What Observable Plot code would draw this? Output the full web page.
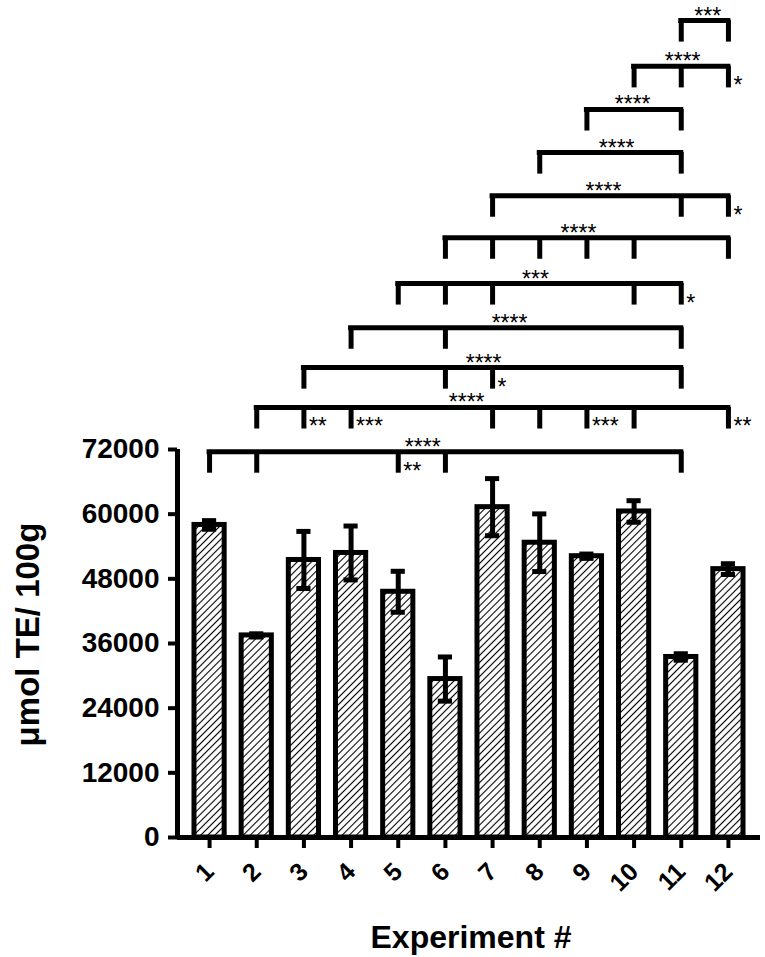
<!DOCTYPE html>
<html><head><meta charset="utf-8">
<script src="https://cdn.jsdelivr.net/npm/d3@7"></script>
<script src="https://cdn.jsdelivr.net/npm/@observablehq/plot@0.6"></script>
<style>html,body{margin:0;padding:0;background:#fff}svg{display:block}</style>
</head><body><div id="chart"></div>
<script>
// ---- data ----
const experiments = [1,2,3,4,5,6,7,8,9,10,11,12];
const means  = [58000, 37500, 51500, 52800, 45600, 29400, 61300, 54700, 52200, 60500, 33500, 49800];
const errors = [800, 300, 5300, 5000, 3800, 4100, 5300, 5350, 400, 2000, 600, 1000];
const yTicks = [0, 12000, 24000, 36000, 48000, 60000, 72000];
const xDomain = [0.32, 12.68];
const yDomain = [0, 72000];

// significance brackets (top to bottom)
const bracketFrom  = [11, 10, 9, 8, 7, 6, 5, 4, 3, 2, 1];
const bracketTo    = [12, 12, 11, 11, 12, 12, 11, 11, 11, 12, 11];
const bracketLevel = [151600, 143100, 135100, 127100, 119100, 111300, 102800, 94600, 87200, 79800, 71600];
const bracketLegs  = [[11,12],[10,11,12],[9,11],[8,11],[7,11,12],[6,7,8,9,10,12],[5,6,7,10,11],[4,6,11],[3,6,7,11],[2,3,4,7,8,9,10,12],[1,2,5,6,11]];
const bracketLabel = ["***","****","****","****","****","****","***","****","****","****","****"];
const bracketLabelAt = [11.56, 11.03, 9.97, 9.63, 9.35, 8.82, 7.91, 7.36, 6.81, 6.45, 5.52];
const legDrop = 4000;
// extra labels beside a leg: bracket index, leg position, label
const sideBracket = [1, 4, 6, 8, 9, 9, 9, 9, 10];
const sideAt      = [12, 12, 11, 7, 3, 4, 9, 12, 5];
const sideLabel   = ["*", "*", "*", "*", "**", "***", "***", "**", "**"];

const xTitle = "Experiment #";
const yTitle = "μmol TE/ 100g";

// ---- tables ----
const bars = experiments.map((e, i) => ({e, m: means[i], err: errors[i]}));
const brackets = bracketFrom.map((f, i) => ({from: f, to: bracketTo[i], level: bracketLevel[i], label: bracketLabel[i], at: bracketLabelAt[i]}));
const legs = bracketLegs.flatMap((ls, i) => ls.map(x => ({x, level: bracketLevel[i]})));
const sides = sideBracket.map((b, i) => ({x: sideAt[i], level: bracketLevel[b], label: sideLabel[i]}));

const halfBar = 0.32, halfCap = 0.15;

const plot = Plot.plot({
  width: 765, height: 957,
  marginLeft: 177, marginRight: 5, marginTop: 449, marginBottom: 120,
  x: {domain: xDomain, axis: null},
  y: {domain: yDomain, axis: null},
  style: {fontFamily: "'Liberation Sans', Arial, sans-serif", fontWeight: "bold", background: "white", color: "black", overflow: "visible"},
  marks: [
    Plot.rectY(bars, {x1: d => d.e - halfBar, x2: d => d.e + halfBar, y1: 0, y2: "m", fill: "url(#hatch)", stroke: "black", strokeWidth: 5}),
    Plot.ruleX(bars, {x: "e", y1: d => d.m - d.err, y2: d => d.m + d.err, stroke: "black", strokeWidth: 5}),
    Plot.ruleY(bars, {x1: d => d.e - halfCap, x2: d => d.e + halfCap, y: d => d.m + d.err, stroke: "black", strokeWidth: 5}),
    Plot.ruleY(bars, {x1: d => d.e - halfCap, x2: d => d.e + halfCap, y: d => d.m - d.err, stroke: "black", strokeWidth: 5}),
    Plot.ruleY([yDomain[0]], {stroke: "black", strokeWidth: 5}),
    Plot.ruleX([xDomain[0]], {y1: yDomain[0], y2: yDomain[1], stroke: "black", strokeWidth: 5}),
    Plot.axisY({ticks: yTicks, tickSize: 9, tickPadding: 9, fontSize: 28, strokeWidth: 4, tickFormat: d => String(d), label: null}),
    Plot.axisX({ticks: experiments, tickSize: 11, tickPadding: 19, tickRotate: -45, fontSize: 25, strokeWidth: 4, tickFormat: d => String(d), label: null}),
    // brackets
    Plot.ruleY(brackets, {x1: "from", x2: "to", y: "level", stroke: "black", strokeWidth: 5, strokeLinecap: "square"}),
    Plot.ruleX(legs, {x: "x", y1: "level", y2: d => d.level - legDrop, stroke: "black", strokeWidth: 5}),
    Plot.text(brackets, {x: "at", y: "level", text: "label", fontSize: 23, fontWeight: "normal", lineAnchor: "bottom", dy: 3}),
    Plot.text(sides, {x: "x", y: "level", text: "label", fontSize: 23, fontWeight: "normal", textAnchor: "start", lineAnchor: "bottom", dx: 5, dy: 27}),
    // axis titles
    Plot.text([xTitle], {frameAnchor: "bottom", text: d => d, fontSize: 32, textAnchor: "middle", lineAnchor: "bottom", dx: 2, dy: 110}),
    Plot.text([yTitle], {frameAnchor: "left", text: d => d, fontSize: 33, rotate: -90, textAnchor: "middle", lineAnchor: "bottom", dx: -139, dy: -9})
  ]
});

const ns = "http://www.w3.org/2000/svg";
const defs = document.createElementNS(ns, "defs");
defs.innerHTML = '<pattern id="hatch" patternUnits="userSpaceOnUse" width="5" height="5" patternTransform="rotate(45)"><rect width="5" height="5" fill="white"/><line x1="2.5" y1="-1" x2="2.5" y2="6" stroke="black" stroke-width="1.1"/></pattern>';
plot.insertBefore(defs, plot.firstChild);
document.getElementById("chart").appendChild(plot);
</script>
</body></html>
